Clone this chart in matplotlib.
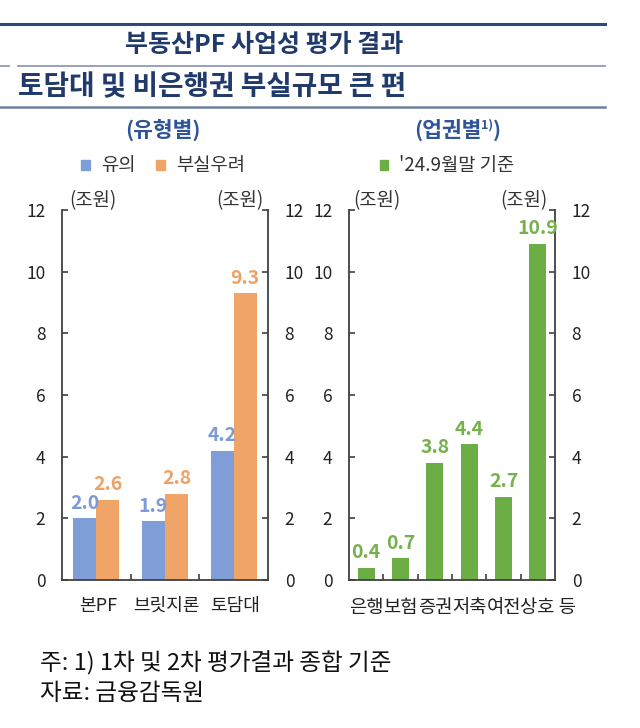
import numpy as np
import matplotlib
matplotlib.use("Agg")
import matplotlib.pyplot as plt
from matplotlib.lines import Line2D
from matplotlib.patches import Patch

plt.rcParams['font.family'] = ['Noto Sans CJK KR', 'DejaVu Sans']

# 유형별
types = ['본PF', '브릿지론', '토담대']
caution = [2.0, 1.9, 4.2]       # 유의
insolvent = [2.6, 2.8, 9.3]     # 부실우려

# 업권별
sectors = ['은행', '보험', '증권', '저축', '여전', '상호 등']
sector_vals = [0.4, 0.7, 3.8, 4.4, 2.7, 10.9]

yticks = [0, 2, 4, 6, 8, 10, 12]

BLUE = '#7F9ED8'
ORANGE = '#F0A468'
GREEN = '#6DAD46'
NAVY = '#1F3A6B'
TITLE_BLUE = '#2F5597'
AXIS = '#404040'

W, H = 640, 728
fx = lambda px: px / W
fy = lambda py: 1 - py / H

fig = plt.figure(figsize=(6.4, 7.28), dpi=100)

# header lines and titles
fig.add_artist(Line2D([0, fx(605)], [fy(24), fy(24)], color='#2E4A78', lw=2.2))
fig.add_artist(Line2D([0, fx(9)], [fy(66), fy(66)], color='#8C9DB8', lw=1.3))
fig.add_artist(Line2D([fx(18), fx(605)], [fy(66), fy(66)], color='#8C9DB8', lw=1.3))
fig.add_artist(Line2D([0, fx(605)], [fy(107), fy(107)], color='#6F819F', lw=1.8))
fig.text(fx(264), fy(45), '부동산PF 사업성 평가 결과', ha='center', va='center',
         fontsize=18, fontweight='bold', color=NAVY)
fig.text(fx(18), fy(87), '토담대 및 비은행권 부실규모 큰 편', ha='left', va='center',
         fontsize=20, fontweight='bold', color=NAVY)

ax1 = fig.add_axes([fx(62), fy(580), 206 / W, 370 / H])
ax2 = fig.add_axes([fx(349), fy(580), 206 / W, 370 / H])


def style_axis(ax, n):
    ax.set_ylim(0, 12)
    ax.set_xlim(-0.5, n - 0.5)
    ax.spines['top'].set_visible(False)
    for s in ['left', 'right', 'bottom']:
        ax.spines[s].set_color(AXIS)
        ax.spines[s].set_linewidth(1.3)
    ax.set_yticks(yticks)
    ax.tick_params(axis='y', direction='in', length=4, width=1.2, color=AXIS,
                   left=True, right=True, labelleft=True, labelright=True,
                   pad=12, labelsize=12.5, labelcolor='#222222')
    ax.set_xticks([])
    ax.set_xticks(np.arange(n - 1) + 0.5, minor=True)
    ax.tick_params(axis='x', which='minor', direction='in', length=4, width=1.2, color=AXIS)


style_axis(ax1, len(types))
style_axis(ax2, len(sectors))

# left chart
x = np.arange(len(types))
w = 0.335
ax1.bar(x - w / 2, caution, w, color=BLUE, label='유의')
ax1.bar(x + w / 2, insolvent, w, color=ORANGE, label='부실우려')
for xi, v in zip(x - w / 2, caution):
    ax1.annotate(f'{v:.1f}', (xi, v), xytext=(0, 4), textcoords='offset points',
                 ha='center', va='bottom', fontsize=14, fontweight='bold', color='#7C9BD6')
for xi, v in zip(x + w / 2, insolvent):
    ax1.annotate(f'{v:.1f}', (xi, v), xytext=(0, 4), textcoords='offset points',
                 ha='center', va='bottom', fontsize=14, fontweight='bold', color='#EDA266')
for i, lab in enumerate(types):
    ax1.annotate(lab, xy=(i, 0), xycoords=('data', 'axes fraction'), xytext=(1, -12),
                 textcoords='offset points', ha='center', va='top', fontsize=13, color='#222222')

# right chart
x2 = np.arange(len(sectors))
ax2.bar(x2, sector_vals, 0.5, color=GREEN, label="'24.9월말 기준")
for xi, v in zip(x2, sector_vals):
    ax2.annotate(f'{v:.1f}', (xi, v), xytext=(0, 4), textcoords='offset points',
                 ha='center', va='bottom', fontsize=14, fontweight='bold', color='#77B14E')
for i, lab in enumerate(sectors):
    dx = 7 if i == len(sectors) - 1 else 0
    ax2.annotate(lab, xy=(i, 0), xycoords=('data', 'axes fraction'), xytext=(dx, -12),
                 textcoords='offset points', ha='center', va='top', fontsize=13.5, color='#222222')

# legends
fig.legend(handles=[Patch(color=BLUE, label='유의'), Patch(color=ORANGE, label='부실우려')],
           loc='center', bbox_to_anchor=(fx(163), fy(166)), ncol=2, frameon=False,
           handlelength=0.45, handleheight=0.45, handletextpad=0.6, columnspacing=1.1,
           fontsize=13.5, labelcolor='#333333')
fig.legend(handles=[Patch(color=GREEN, label="'24.9월말 기준")],
           loc='center', bbox_to_anchor=(fx(447), fy(166)), frameon=False,
           handlelength=0.45, handleheight=0.45, handletextpad=0.6,
           fontsize=13.5, labelcolor='#333333')

# units
for xl, xr in [(69, 263), (353, 547)]:
    fig.text(fx(xl), fy(201), '(조원)', ha='left', va='center', fontsize=13.5, color='#333333')
    fig.text(fx(xr), fy(201), '(조원)', ha='right', va='center', fontsize=13.5, color='#333333')

# panel titles
fig.text(fx(163), fy(130), '(유형별)', ha='center', va='center',
         fontsize=15.5, fontweight='bold', color=TITLE_BLUE)
t1 = fig.text(fx(481), fy(130), '(업권별', ha='right', va='center',
              fontsize=15.5, fontweight='bold', color=TITLE_BLUE)
t2 = ax2.annotate('1)', xy=(1.0, 0.45), xycoords=t1, ha='left', va='bottom',
                  fontsize=9, fontweight='bold', color=TITLE_BLUE, annotation_clip=False)
ax2.annotate(')', xy=(1.0, 0.5), xycoords=(t2, t1), ha='left', va='center',
             fontsize=15.5, fontweight='bold', color=TITLE_BLUE, annotation_clip=False)

# footnotes
fig.text(fx(40), fy(663), '주: 1) 1차 및 2차 평가결과 종합 기준', ha='left', va='center',
         fontsize=17, color='#111111')
fig.text(fx(40), fy(693), '자료: 금융감독원', ha='left', va='center',
         fontsize=17, color='#111111')

fig.savefig('out.png', dpi=100)
